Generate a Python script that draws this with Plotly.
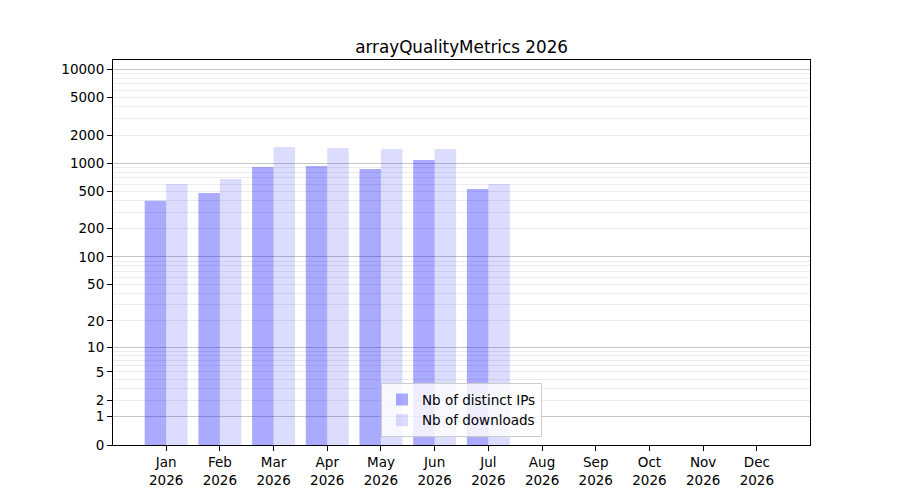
import numpy as np
import plotly.graph_objects as go

# monthly stats
months = ['Jan', 'Feb', 'Mar', 'Apr', 'May', 'Jun', 'Jul', 'Aug', 'Sep', 'Oct', 'Nov', 'Dec']
year = '2026'
distinct_ips = [397, 483, 913, 936, 870, 1084, 532, 0, 0, 0, 0, 0]
downloads = [602, 680, 1492, 1455, 1420, 1420, 602, 0, 0, 0, 0, 0]
tick_values = [0, 1, 2, 5, 10, 20, 50, 100, 200, 500, 1000, 2000, 5000, 10000]
decades = [1, 10, 100, 1000, 10000]
minor_values = [m * 10 ** k for k in range(4) for m in range(2, 10)]


# symlog-like scale: position = log10(1 + value)
def sl(v):
    return np.log10(1 + np.asarray(v, dtype=float))


categories = [m + '<br>' + year for m in months]
font = dict(family='DejaVu Sans', size=13.5, color='black')
yrange = [0, 4.1]

fig = go.Figure()
# IPs on the left half of each month, downloads on the right half
fig.add_trace(go.Bar(x=categories, y=sl(distinct_ips), name='Nb of distinct IPs',
                     offset=-0.4, width=0.4, yaxis='y',
                     marker=dict(color='rgba(0,0,255,0.333)', line=dict(width=0))))
fig.add_trace(go.Bar(x=categories, y=sl(downloads), name='Nb of downloads',
                     offset=0, width=0.4, yaxis='y2',
                     marker=dict(color='rgba(0,0,255,0.137)', line=dict(width=0))))

# page body has an 8px margin, so shift the margins to compensate
fig.update_layout(
    width=900, height=500,
    margin=dict(l=104.5, r=98, t=52, b=63),
    plot_bgcolor='white', paper_bgcolor='white',
    font=font,
    barmode='overlay',
    title=dict(text='arrayQualityMetrics ' + year, x=0.504, xanchor='center',
               yref='paper', y=1, yanchor='bottom', pad=dict(b=7),
               font=dict(family='DejaVu Sans', size=16.8, color='black')),
    legend=dict(x=0.5, xanchor='center', y=0.02, yanchor='bottom',
                bgcolor='rgba(255,255,255,0.8)', bordercolor='#cccccc', borderwidth=1,
                font=dict(family='DejaVu Sans', size=13.5), tracegroupgap=0),
    xaxis=dict(range=[-0.99, 11.99], showgrid=False, zeroline=False,
               showline=True, linecolor='black', linewidth=1, mirror=True,
               ticks='outside', ticklen=5, tickcolor='black'),
    yaxis=dict(range=yrange, zeroline=False, showgrid=False,
               tickmode='array', tickvals=sl(tick_values), ticktext=[str(t) for t in tick_values],
               showline=True, linecolor='black', linewidth=1, mirror=True,
               ticks='outside', ticklen=5, tickcolor='black',
               minor=dict(tickmode='array', tickvals=sl(minor_values), showgrid=True,
                          gridcolor='#ececec', gridwidth=1, ticks='')),
    yaxis2=dict(range=yrange, overlaying='y', anchor='x', side='left', zeroline=False,
                tickmode='array', tickvals=sl(decades), showticklabels=False, ticks='',
                showgrid=True, gridcolor='#c6c6c6', gridwidth=1, showline=False),
)

fig.write_html('out.html')
